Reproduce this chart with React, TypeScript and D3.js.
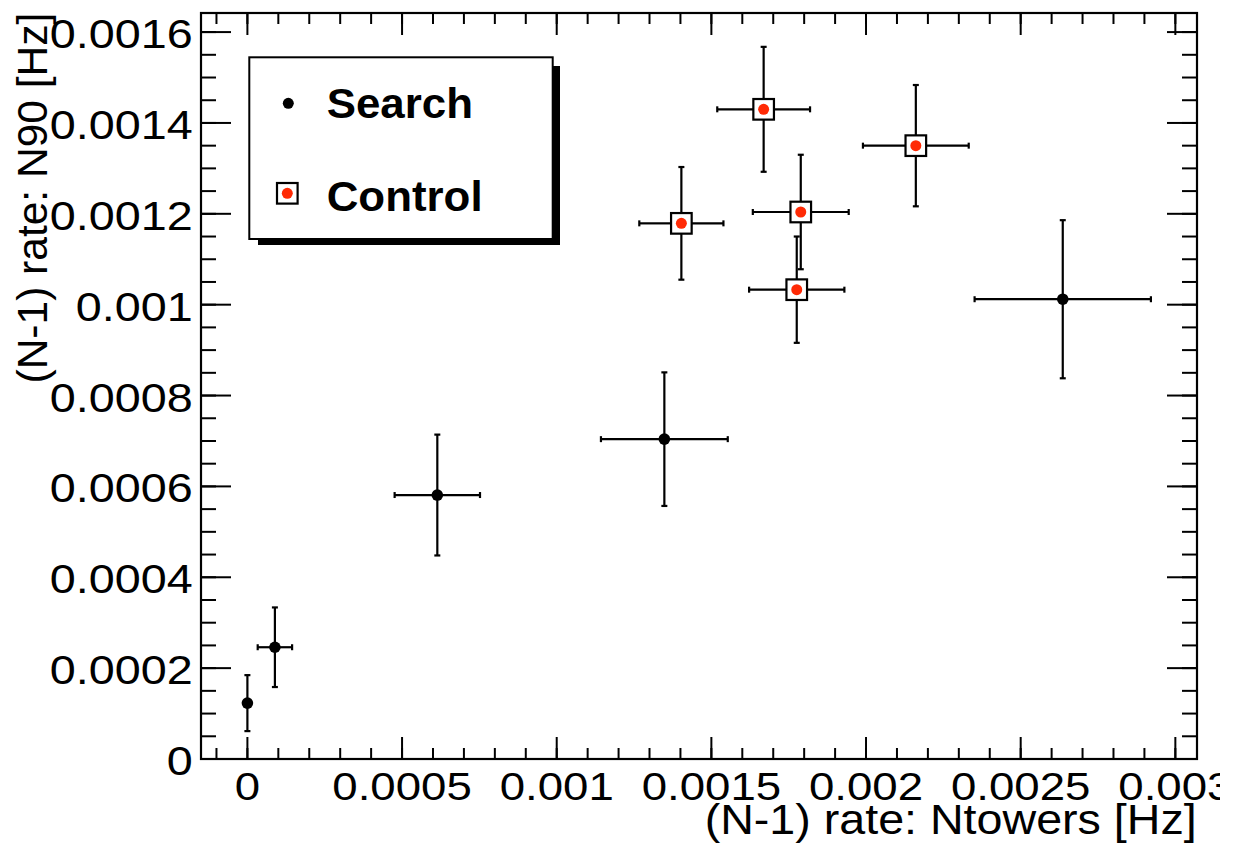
import React from "react";
import * as d3 from "d3";

// ---- Data ----
const searchX = [0.0, 0.0000889, 0.000614, 0.001348, 0.002636];
const searchY = [0.000123, 0.000246, 0.000581, 0.000704, 0.001012];
const searchEX = [0.0, 0.0000556, 0.000138, 0.000205, 0.000285];
const searchEY = [0.0000616, 0.0000876, 0.000133, 0.000147, 0.000174];

const controlX = [0.001669, 0.002161, 0.001403, 0.001789, 0.001776];
const controlY = [0.00143, 0.00135, 0.001179, 0.001204, 0.001033];
const controlEX = [0.00015, 0.000171, 0.000136, 0.000155, 0.000154];
const controlEY = [0.0001375, 0.0001335, 0.000124, 0.000126, 0.000117];

const xMajorTicks = [0, 0.0005, 0.001, 0.0015, 0.002, 0.0025, 0.003];
const xTickLabels = ["0", "0.0005", "0.001", "0.0015", "0.002", "0.0025", "0.003"];
const yMajorTicks = [0, 0.0002, 0.0004, 0.0006, 0.0008, 0.001, 0.0012, 0.0014, 0.0016];
const yTickLabels = ["0", "0.0002", "0.0004", "0.0006", "0.0008", "0.001", "0.0012", "0.0014", "0.0016"];

const legendLabels = ["Search", "Control"];
const xTitle = "(N-1) rate: Ntowers [Hz]";
const yTitle = "(N-1) rate: N90 [Hz]";

// ---- Layout ----
const W = 1244;
const H = 850;
const L = 201, R = 1197, T = 13, B = 759;
const FONT = "'Liberation Sans', Arial, Helvetica, sans-serif";
const RED = "#ff2a05";

const x = d3.scaleLinear().domain([-0.00015, 0.00307]).range([L, R]);
const y = d3.scaleLinear().domain([0, 0.001642]).range([B, T]);

const xMinor = d3.range(-1, 31).map((i) => i * 0.0001).filter((v) => x(v) >= L && x(v) <= R);
const yMinor = d3.range(0, 33).map((i) => i * 0.00005).filter((v) => y(v) >= T && y(v) <= B);

function ErrPoint({ cx, cy, ex, ey, hole }: { cx: number; cy: number; ex: number; ey: number; hole: number }) {
  const px = x(cx), py = y(cy);
  const x0 = x(cx - ex), x1 = x(cx + ex);
  const y0 = y(cy + ey), y1 = y(cy - ey);
  const cap = 3;
  const segs: JSX.Element[] = [];
  if (ex > 0) {
    segs.push(<line key="xl" x1={x0} x2={px - hole} y1={py} y2={py} />);
    segs.push(<line key="xr" x1={px + hole} x2={x1} y1={py} y2={py} />);
    segs.push(<line key="cxl" x1={x0} x2={x0} y1={py - cap} y2={py + cap} />);
    segs.push(<line key="cxr" x1={x1} x2={x1} y1={py - cap} y2={py + cap} />);
  }
  if (ey > 0) {
    segs.push(<line key="yt" x1={px} x2={px} y1={y0} y2={py - hole} />);
    segs.push(<line key="yb" x1={px} x2={px} y1={py + hole} y2={y1} />);
    segs.push(<line key="cyt" x1={px - cap} x2={px + cap} y1={y0} y2={y0} />);
    segs.push(<line key="cyb" x1={px - cap} x2={px + cap} y1={y1} y2={y1} />);
  }
  return <g stroke="#000" strokeWidth={2.2}>{segs}</g>;
}

export default function App() {
  return (
    <svg width={W} height={H} style={{ display: "block", position: "absolute", left: 0, top: 0 }}>
      <defs>
        <clipPath id="canvasClip">
          <rect x={0} y={0} width={1220} height={H} />
        </clipPath>
      </defs>
      <rect x={0} y={0} width={W} height={H} fill="#fff" />
      <g clipPath="url(#canvasClip)" fontFamily={FONT}>
        {/* frame */}
        <rect x={L} y={T} width={R - L} height={B - T} fill="none" stroke="#000" strokeWidth={2.2} />
        {/* x ticks */}
        <g stroke="#000" strokeWidth={2}>
          {xMinor.map((v, i) => (
            <g key={"xm" + i}>
              <line x1={x(v)} x2={x(v)} y1={B} y2={B - 11} />
              <line x1={x(v)} x2={x(v)} y1={T} y2={T + 11} />
            </g>
          ))}
          {xMajorTicks.map((v, i) => (
            <g key={"xM" + i}>
              <line x1={x(v)} x2={x(v)} y1={B} y2={B - 22} />
              <line x1={x(v)} x2={x(v)} y1={T} y2={T + 22} />
            </g>
          ))}
          {yMinor.map((v, i) => (
            <g key={"ym" + i}>
              <line x1={L} x2={L + 15} y1={y(v)} y2={y(v)} />
              <line x1={R} x2={R - 15} y1={y(v)} y2={y(v)} />
            </g>
          ))}
          {yMajorTicks.map((v, i) => (
            <g key={"yM" + i}>
              <line x1={L} x2={L + 30} y1={y(v)} y2={y(v)} />
              <line x1={R} x2={R - 30} y1={y(v)} y2={y(v)} />
            </g>
          ))}
        </g>
        {/* tick labels */}
        {xMajorTicks.map((v, i) => (
          <text
            key={"xl" + i}
            transform={`translate(${x(v)},800) scale(1.2,1)`}
            textAnchor="middle"
            fontSize={38}
            fill="#000"
          >
            {xTickLabels[i]}
          </text>
        ))}
        {yMajorTicks.map((v, i) => (
          <text
            key={"yl" + i}
            transform={`translate(192.7,${y(v) + 16}) scale(1.14,1)`}
            textAnchor="end"
            fontSize={41}
            fill="#000"
          >
            {yTickLabels[i]}
          </text>
        ))}
        {/* axis titles */}
        <text transform="translate(1196.7,833.5) scale(1.11,1)" textAnchor="end" fontSize={42} fill="#000">
          {xTitle}
        </text>
        <text transform="translate(46.7,12.7) rotate(-90)" textAnchor="end" fontSize={42.5} fill="#000">
          {yTitle}
        </text>

        {/* Search points */}
        {searchX.map((v, i) => (
          <g key={"s" + i}>
            <ErrPoint cx={v} cy={searchY[i]} ex={searchEX[i]} ey={searchEY[i]} hole={0} />
            <circle cx={x(v)} cy={y(searchY[i])} r={5.8} fill="#000" />
          </g>
        ))}
        {/* Control points */}
        {controlX.map((v, i) => (
          <g key={"c" + i}>
            <ErrPoint cx={v} cy={controlY[i]} ex={controlEX[i]} ey={controlEY[i]} hole={10.5} />
            <rect
              x={x(v) - 10.3}
              y={y(controlY[i]) - 10.3}
              width={20.6}
              height={20.6}
              fill="none"
              stroke="#000"
              strokeWidth={2.2}
            />
            <circle cx={x(v)} cy={y(controlY[i])} r={5.5} fill={RED} />
          </g>
        ))}

        {/* Legend */}
        <rect x={258} y={66} width={302} height={179} fill="#000" />
        <rect x={249.3} y={57.3} width={303.4} height={181.7} fill="#fff" stroke="#000" strokeWidth={2} />
        <circle cx={288.3} cy={103.3} r={5.5} fill="#000" />
        <rect x={277} y={183} width={20.6} height={20.6} fill="none" stroke="#000" strokeWidth={2.2} />
        <circle cx={287.3} cy={193.3} r={5.5} fill={RED} />
        <text transform="translate(326.7,117.7) scale(1.02,1)" fontSize={43} fontWeight="bold" fill="#000">
          {legendLabels[0]}
        </text>
        <text transform="translate(326.7,210.7) scale(1.02,1)" fontSize={43} fontWeight="bold" fill="#000">
          {legendLabels[1]}
        </text>
      </g>
    </svg>
  );
}
